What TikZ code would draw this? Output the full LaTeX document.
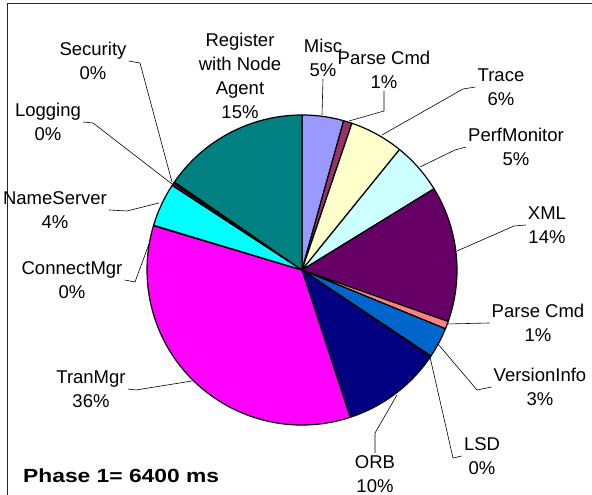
\documentclass[tikz,border=0pt]{standalone}
\usepackage{fontspec}
\setmainfont{Liberation Sans}
\newfontfamily\PhaseFont{Liberation Sans}[FakeStretch=1.2]
\usepackage{xcolor}
\definecolor{ColReg}{RGB}{0,128,128}
\definecolor{ColMisc}{RGB}{153,153,255}
\definecolor{ColParse}{RGB}{153,51,102}
\definecolor{ColTrace}{RGB}{255,255,204}
\definecolor{ColPerf}{RGB}{204,255,255}
\definecolor{ColXML}{RGB}{102,0,102}
\definecolor{ColParseB}{RGB}{255,128,128}
\definecolor{ColVer}{RGB}{0,102,204}
\definecolor{ColLSD}{RGB}{204,204,255}
\definecolor{ColORB}{RGB}{0,0,128}
\definecolor{ColTran}{RGB}{255,0,255}
\definecolor{ColConn}{RGB}{255,255,0}
\definecolor{ColName}{RGB}{0,255,255}
\definecolor{ColLog}{RGB}{128,0,128}
\definecolor{ColSec}{RGB}{128,0,0}
\usepackage{tikz}
\tikzstyle{Slice}=[draw=black,line width=1.2pt,line join=round]
\tikzstyle{Label}=[align=center,inner sep=2pt,
font=\fontsize{18.5}{24}\selectfont]
\tikzstyle{PhaseST}=[inner sep=0pt,font=\PhaseFont\bfseries\fontsize{19}{22}\selectfont]
\tikzstyle{Lead}=[draw=black,line width=.6pt]
\tikzstyle{Frame}=[draw=black!85,line width=1pt]
\newcommand{\PieSlice}[3]{\filldraw[Slice,fill=#3](0,0)--(#1:155)arc(#1:#2:155)--cycle;}

\begin{document}
\begin{tikzpicture}[x=1pt,y=1pt]
    \useasboundingbox(0,0)rectangle(592,495);
    \draw[Frame](7,0)--(7,491)--(592,491);
    \begin{scope}[shift={(302,225)}]
        \PieSlice{90}{74.4}{ColMisc}
        \PieSlice{74.4}{71.2}{ColParse}
        \PieSlice{71.2}{51}{ColTrace}
        \PieSlice{51}{31.6}{ColPerf}
        \PieSlice{31.6}{-19.4}{ColXML}
        \PieSlice{-19.4}{-22.3}{ColParseB}
        \PieSlice{-22.3}{-33.7}{ColVer}
        \PieSlice{-33.7}{-34}{ColLSD}
        \PieSlice{-34}{-71.9}{ColORB}
        \PieSlice{-71.9}{-196.6}{ColTran}
        \PieSlice{-196.6}{-196.8}{ColConn}
        \PieSlice{-196.8}{-213.1}{ColName}
        \PieSlice{-213.1}{-214}{ColLog}
        \PieSlice{-214}{-214.6}{ColSec}
        \PieSlice{-214.6}{-270}{ColReg}
    \end{scope}
    \node[Label](Register)at(240,419){Register\\with Node\\Agent\\15\%};
    \node[Label](Misc)at(323,437){Misc\\5\%};
    \node[Label](ParseA)at(384,425){Parse Cmd\\1\%};
    \node[Label](Trace)at(501,408){Trace\\6\%};
    \node[Label](Perf)at(516,348){PerfMonitor\\5\%};
    \node[Label](XML)at(547,270){XML\\14\%};
    \node[Label](ParseB)at(538,172){Parse Cmd\\1\%};
    \node[Label](Version)at(540,108){VersionInfo\\3\%};
    \node[Label](LSD)at(482,39){LSD\\0\%};
    \node[Label](ORB)at(375,21){ORB\\10\%};
    \node[Label](Tran)at(91,106){TranMgr\\36\%};
    \node[Label](Connect)at(72,215){ConnectMgr\\0\%};
    \node[Label](Name)at(55,285){NameServer\\4\%};
    \node[Label](Logging)at(48,373){Logging\\0\%};
    \node[Label](Security)at(93,434){Security\\0\%};
    \node[PhaseST,anchor=base west](Phase)at(23,12.7){Phase 1= 6400 ms};
    \coordinate(s1)at(140,432);\coordinate(s2)at(172,313);
    \coordinate(l1)at(93,372);\coordinate(l2)at(172,311);
    \coordinate(n1)at(127,284);\coordinate(n2)at(159,292);
    \coordinate(c1)at(135,213);\coordinate(c2)at(149,251);
    \coordinate(t1)at(136,105);\coordinate(t2)at(192,114);
    \coordinate(m2)at(322,380);
    \coordinate(p1)at(384,384);\coordinate(p2)at(349,374);
    \coordinate(r1)at(463,406);\coordinate(r2)at(382,360);
    \coordinate(f1)at(455,345);\coordinate(f2)at(420,328);
    \coordinate(x1)at(514,269);\coordinate(x2)at(457,244);
    \coordinate(q2)at(447,171);
    \coordinate(v1)at(477,105);\coordinate(v2)at(438,151);
    \coordinate(d1)at(453,37);\coordinate(d2)at(430,138);
    \coordinate(o1)at(375,62);\coordinate(o2)at(397,100);
    \draw[Lead](Security.east)--(s1)--(s2);
    \draw[Lead](Logging.east)--(l1)--(l2);
    \draw[Lead](Name.east)--(n1)--(n2);
    \draw[Lead](Connect.east)--(c1)--(c2);
    \draw[Lead](Tran.east)--(t1)--(t2);
    \draw[Lead](Misc.south)--(m2);
    \draw[Lead](ParseA.south)--(p1)--(p2);
    \draw[Lead](Trace.west)--(r1)--(r2);
    \draw[Lead](Perf.west)--(f1)--(f2);
    \draw[Lead](XML.west)--(x1)--(x2);
    \draw[Lead](ParseB.west)--(q2);
    \draw[Lead](Version.west)--(v1)--(v2);
    \draw[Lead](LSD.west)--(d1)--(d2);
    \draw[Lead](ORB.north)--(o1)--(o2);
\end{tikzpicture}
\end{document}
